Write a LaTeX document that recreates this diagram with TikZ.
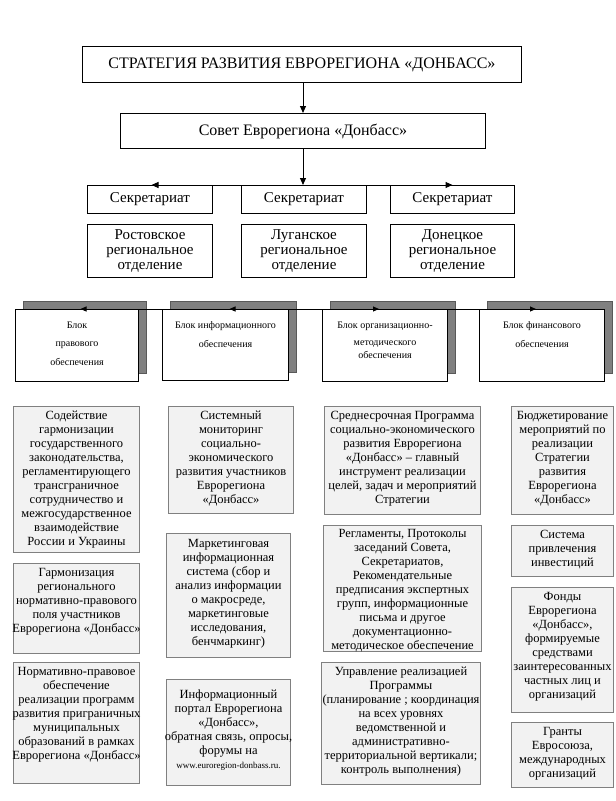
\documentclass[tikz,border=0pt]{standalone}
\usepackage{fontspec}
\setmainfont{Liberation Serif}
\usetikzlibrary{arrows.meta,shadows}
\definecolor{boxfill}{HTML}{F2F2F2}
\definecolor{boxline}{HTML}{808080}
\definecolor{shadowgray}{HTML}{808080}
\tikzset{
  hbox/.style={draw=black, line width=1pt, fill=white, inner sep=0pt},
  htext/.style={inner sep=0pt, align=center, font=\fontsize{15}{15}\selectfont},
  blk/.style={draw=black, line width=1pt, fill=white, inner sep=0pt,
    general shadow={fill=shadowgray, draw=black!65, line width=0.8pt, shadow xshift=7.5pt, shadow yshift=8pt}},
  blktext/.style={inner sep=0pt, align=center, anchor=north},
  bbox/.style={draw=boxline, line width=1pt, fill=boxfill, inner sep=0pt},
  btext/.style={inner sep=0pt, align=center, anchor=north, font=\fontsize{12.5}{14}\selectfont},
  arr/.style={draw=black, line width=1pt, -{Triangle[length=7pt,width=6pt]}},
  arrs/.style={draw=black, line width=1pt, -{Triangle[length=6pt,width=5pt]}},
}
% box with top-aligned text: name, x1, y1, x2, y2, pad, text
\newcommand\bxx[7]{%
  \node[bbox, anchor=north west, minimum width={#4-#2}, minimum height={#5-#3}] (#1) at (#2,#3) {};
  \node[btext] at ([yshift=-#6]#1.north) {\strut #7};
}
\newcommand\hbx[6]{%
  \node[hbox, anchor=north west, minimum width={#4-#2}, minimum height={#5-#3}] (#1) at (#2,#3) {};
  \node[htext] at (#1.center) {#6};
}
\begin{document}
\begin{tikzpicture}[x=1pt,y=-1pt]
\useasboundingbox (0,0) rectangle (616,801);
% header
\hbx{top}{82}{46}{521}{82}{\fontsize{16}{16}\selectfont СТРАТЕГИЯ РАЗВИТИЯ ЕВРОРЕГИОНА «ДОНБАСС»}
\hbx{council}{120}{113}{485}{148}{\fontsize{16}{16}\selectfont Совет Еврорегиона «Донбасс»}
\hbx{sec1}{87}{185}{212}{213}{Секретариат}
\hbx{sec2}{241}{185}{366}{213}{Секретариат}
\hbx{sec3}{390}{185}{514}{213}{Секретариат}
\hbx{reg1}{87}{224}{212}{277}{Ростовское\\региональное\\отделение}
\hbx{reg2}{241}{224}{366}{277}{Луганское\\региональное\\отделение}
\hbx{reg3}{390}{224}{514}{277}{Донецкое\\региональное\\отделение}
\draw[arr] (top.south -| council.south) -- (council.north);
\draw[arr] (council.south) -- (council.south |- sec2.north);
\draw[arr] (council.south |- sec1.north) -- ([xshift=1.5pt]sec1.north);
\draw[arr] (council.south |- sec3.north) -- (sec3.north);
% blocks
\node[blk, anchor=north west, minimum width=123, minimum height=72] (blk1) at (15,309) {};
\node[blk, anchor=north west, minimum width=126, minimum height=71] (blk2) at (162,309) {};
\node[blk, anchor=north west, minimum width=125, minimum height=72] (blk3) at (322,309) {};
\node[blk, anchor=north west, minimum width=125, minimum height=72] (blk4) at (479,309) {};
\coordinate (bj) at (305,309);
\draw[arrs] (bj) -- ([xshift=3.5pt]blk1.north);
\draw[arrs] (bj) -- ([xshift=4pt]blk2.north);
\draw[arrs] (bj) -- ([xshift=-6pt]blk3.north);
\draw[arrs] (bj) -- ([xshift=-6pt]blk4.north);
\node[blktext, font=\fontsize{10}{18.5}\selectfont] at ([yshift=-9pt]blk1.north) {\rule{0pt}{10pt}Блок\\правового\\обеспечения};
\node[blktext, font=\fontsize{10}{19}\selectfont] at ([yshift=-9pt]blk2.north) {\rule{0pt}{10pt}Блок информационного\\обеспечения};
\node[blktext, font=\fontsize{10}{13.5}\selectfont] at ([yshift=-9pt]blk3.north) {\rule{0pt}{10pt}Блок организационно-\\[3.5pt]методического\\обеспечения};
\node[blktext, font=\fontsize{10}{19}\selectfont] at ([yshift=-9pt]blk4.north) {\rule{0pt}{10pt}Блок финансового\\обеспечения};
% column 1
\bxx{a1}{13}{406}{139}{552}{3pt}{Содействие\\гармонизации\\государственного\\законодательства,\\регламентирующего\\трансграничное\\сотрудничество и\\межгосударственное\\взаимодействие\\России и Украины}
\bxx{a2}{13}{563}{139}{653}{3.5pt}{Гармонизация\\регионального\\нормативно-правового\\поля участников\\Еврорегиона «Донбасс»}
\bxx{a3}{13}{662}{139}{783}{3.5pt}{Нормативно-правовое\\обеспечение\\реализации программ\\развития приграничных\\муниципальных\\образований в рамках\\Еврорегиона «Донбасс»}
% column 2
\bxx{b1}{168}{406}{293}{513}{3pt}{Системный\\мониторинг\\социально-\\экономического\\развития участников\\Еврорегиона\\«Донбасс»}
\bxx{b2}{166}{533}{290}{657}{4pt}{Маркетинговая\\информационная\\система (сбор и\\анализ информации\\о макросреде,\\маркетинговые\\исследования,\\бенчмаркинг)}
\bxx{b3}{166}{679}{290}{785}{9pt}{Информационный\\портал Еврорегиона\\«Донбасс»,\\обратная связь, опросы,\\форумы на\\{\fontsize{9}{11}\selectfont www.euroregion-donbass.ru.}}
% column 3
\bxx{c1}{324}{406}{480}{514}{3pt}{Среднесрочная Программа\\социально-экономического\\развития Еврорегиона\\«Донбасс» – главный\\инструмент реализации\\целей, задач и мероприятий\\Стратегии}
\bxx{c2}{323}{525}{481}{651}{2.5pt}{Регламенты, Протоколы\\заседаний Совета,\\Секретариатов,\\Рекомендательные\\предписания экспертных\\групп, информационные\\письма и другое\\документационно-\\методическое обеспечение}
\bxx{c3}{321}{662}{480}{784}{3pt}{Управление реализацией\\Программы\\(планирование ; координация\\на всех уровнях\\ведомственной и\\административно-\\территориальной вертикали;\\контроль выполнения)}
% column 4
\bxx{d1}{511}{406}{613}{514}{3pt}{Бюджетирование\\мероприятий по\\реализации\\Стратегии\\развития\\Еврорегиона\\«Донбасс»}
\bxx{d2}{511}{525}{613}{576}{3pt}{Система\\привлечения\\инвестиций}
\bxx{d3}{511}{587}{613}{712}{3pt}{Фонды\\Еврорегиона\\«Донбасс»,\\формируемые\\средствами\\заинтересованных\\частных лиц и\\организаций}
\bxx{d4}{511}{722}{613}{787}{3pt}{Гранты\\Евросоюза,\\международных\\организаций}
\end{tikzpicture}
\end{document}
